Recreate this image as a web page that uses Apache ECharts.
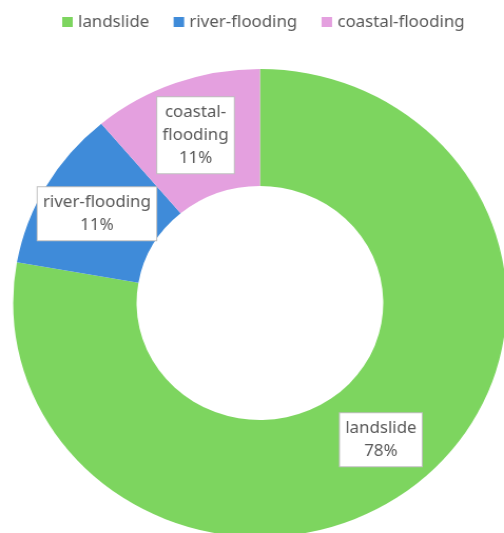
<!DOCTYPE html>
<html><head><meta charset="utf-8">
<script src="https://cdn.jsdelivr.net/npm/echarts@6/dist/echarts.min.js"></script>
<style>html,body{margin:0;padding:0;background:#fff;overflow:hidden}#c{width:478px;height:533px;transform:scaleX(1.0544);transform-origin:0 0}</style>
</head><body><div id="c"></div>
<script>
const categories = ['landslide', 'river-flooding', 'coastal-flooding'];
const values = [7, 1, 1];
const colors = ['#7dd55f', '#3f8bd9', '#e4a0df'];
const labelText = {'landslide': 'landslide', 'river-flooding': 'river-flooding', 'coastal-flooding': 'coastal-\nflooding'};

const chart = echarts.init(document.getElementById('c'), null, {renderer: 'canvas'});
chart.setOption({
  animation: false,
  color: colors,
  legend: {
    top: 9, left: 54, itemWidth: 10, itemHeight: 10, itemGap: 23,
    icon: 'rect',
    textStyle: {color: '#595959', fontSize: 16, fontFamily: 'Noto Sans'}
  },
  series: [{
    type: 'pie',
    center: [246.5, 303],
    radius: [117, 234],
    startAngle: 90,
    clockwise: true,
    data: categories.map((c, i) => ({name: c, value: values[i]})),
    label: {
      position: 'inside',
      formatter: p => labelText[p.name] + '\n' + Math.round(p.percent) + '%',
      color: '#595959', fontSize: 16, fontFamily: 'Noto Sans', lineHeight: 23,
      backgroundColor: '#fff', borderColor: '#bfbfbf', borderWidth: 1,
      padding: [4, 5, 3, 5], align: 'center'
    },
    labelLine: {show: false},
    emphasis: {disabled: true}
  }]
});
</script></body></html>
